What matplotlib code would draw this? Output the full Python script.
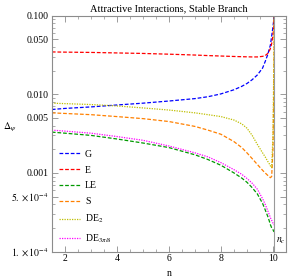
import matplotlib
matplotlib.use('Agg')
import matplotlib.pyplot as plt
from matplotlib.ticker import FixedLocator, FixedFormatter, LogLocator, NullFormatter, MultipleLocator

plt.rcParams['font.family'] = ['Liberation Serif', 'DejaVu Serif']
plt.rcParams['mathtext.fontset'] = 'stix'

n_c = 10.05
n = [1.5, 2, 3, 4, 5, 6, 7, 7.5, 8, 8.5, 8.8, 9, 9.2, 9.4, 9.6, 9.7, 9.8, 9.85, 9.9, 9.95,
     10.0, 10.03, 10.05]

G = [0.0064, 0.0066, 0.0069, 0.0073, 0.0077, 0.0082, 0.0088, 0.0093, 0.0101, 0.0114, 0.0126,
     0.0137, 0.0153, 0.0176, 0.0215, 0.026, 0.032, 0.037, 0.042, 0.055, 0.072, 0.088, 0.1]
E = [0.0345, 0.0343, 0.034, 0.0335, 0.033, 0.0323, 0.0315, 0.031, 0.0306, 0.0302, 0.0300,
     0.0299, 0.0298, 0.0298, 0.0303, 0.031, 0.033, 0.035, 0.038, 0.044, 0.056, 0.075, 0.1]
LE = [0.0033, 0.0032, 0.0030, 0.0027, 0.0024, 0.0021, 0.0017, 0.00148, 0.00125, 0.001,
      0.00086, 0.00076, 0.00065, 0.00054, 0.00041, 0.00034, 0.00028, 0.00025, 0.00022,
      0.0002, 0.00019, 0.00018, 0.00018]
S = [0.0058, 0.0057, 0.0055, 0.0052, 0.0049, 0.0045, 0.0039, 0.0035, 0.0031, 0.0025, 0.0021,
     0.0018, 0.00152, 0.00128, 0.00108, 0.001, 0.00093, 0.0009, 0.00087, 0.0009, 0.002,
     0.01, 0.1]
DE2 = [0.0077, 0.0076, 0.0074, 0.0071, 0.0067, 0.0063, 0.0058, 0.0055, 0.0052, 0.0047,
       0.0042, 0.0037, 0.0030, 0.0023, 0.0018, 0.0016, 0.0014, 0.00132, 0.00123, 0.00117,
       0.003, 0.02, 0.1]
DE38 = [0.0035, 0.0034, 0.0032, 0.0029, 0.0026, 0.0022, 0.0018, 0.0016, 0.00135, 0.0011,
        0.00096, 0.00085, 0.00074, 0.00062, 0.00047, 0.0004, 0.00033, 0.0003, 0.00027,
        0.00025, 0.00023, 0.00022, 0.00022]

y_ticks = [1e-4, 5e-4, 1e-3, 5e-3, 1e-2, 5e-2, 1e-1]
y_labels = [r'$1.\times10^{-4}$', r'$5.\times10^{-4}$', '0.001', '0.005', '0.010', '0.050', '0.100']

fig = plt.figure(figsize=(2.88, 2.78), dpi=100)
ax = fig.add_axes([0.18, 0.095, 0.813, 0.849])

lw = 0.9
ax.plot(n, G, color=(0, 0, 1), ls=(0, (3, 1.5)), lw=lw, label='G')
ax.plot(n, E, color=(1, 0, 0), ls=(0, (3, 1.5)), lw=lw, label='E')
ax.plot(n, LE, color=(0, 0.6, 0), ls=(0, (3, 1.5)), lw=lw, label='LE')
ax.plot(n, S, color=(1, 0.5, 0), ls=(0, (3, 1.5)), lw=lw, label='S')
ax.plot(n, DE2, color=(0.75, 0.75, 0), ls=(0, (1, 1)), lw=lw, label=r'DE$_2$')
ax.plot(n, DE38, color=(1, 0, 1), ls=(0, (1, 1)), lw=lw, label=r'DE$_{3\pi/8}$')

ax.axvline(n_c, color='0.6', lw=0.8)
ax.text(n_c + 0.07, 1.3e-4, r'$n_c$', fontsize=7)

ax.set_yscale('log')
ax.set_xlim(1.5, 10.5)
ax.set_ylim(1e-4, 0.1)
ax.yaxis.set_major_locator(FixedLocator(y_ticks))
ax.yaxis.set_major_formatter(FixedFormatter(y_labels))
ax.yaxis.set_minor_locator(LogLocator(base=10, subs=range(2, 10), numticks=20))
ax.yaxis.set_minor_formatter(NullFormatter())
ax.xaxis.set_major_locator(MultipleLocator(2))
ax.xaxis.set_minor_locator(MultipleLocator(0.5))

for side in ax.spines.values():
    side.set_color('0.55')
    side.set_linewidth(0.8)
ax.tick_params(which='both', direction='in', top=True, right=True, color='0.55', labelsize=7, pad=2)
ax.tick_params(which='major', length=4, width=0.6)
ax.tick_params(which='minor', length=2, width=0.5)

ax.set_title('Attractive Interactions, Stable Branch', fontsize=7.5, pad=3)
ax.set_xlabel('n', fontsize=7, labelpad=4)
ax.set_ylabel(r'$\Delta_\psi$', fontsize=7, rotation=0)
ax.yaxis.set_label_coords(-0.18, 0.5)

ax.legend(loc='lower left', frameon=False, fontsize=7, handlelength=2.2, handletextpad=0.5,
          labelspacing=0.7, borderaxespad=0.3)

fig.savefig('out.png', dpi=100)
